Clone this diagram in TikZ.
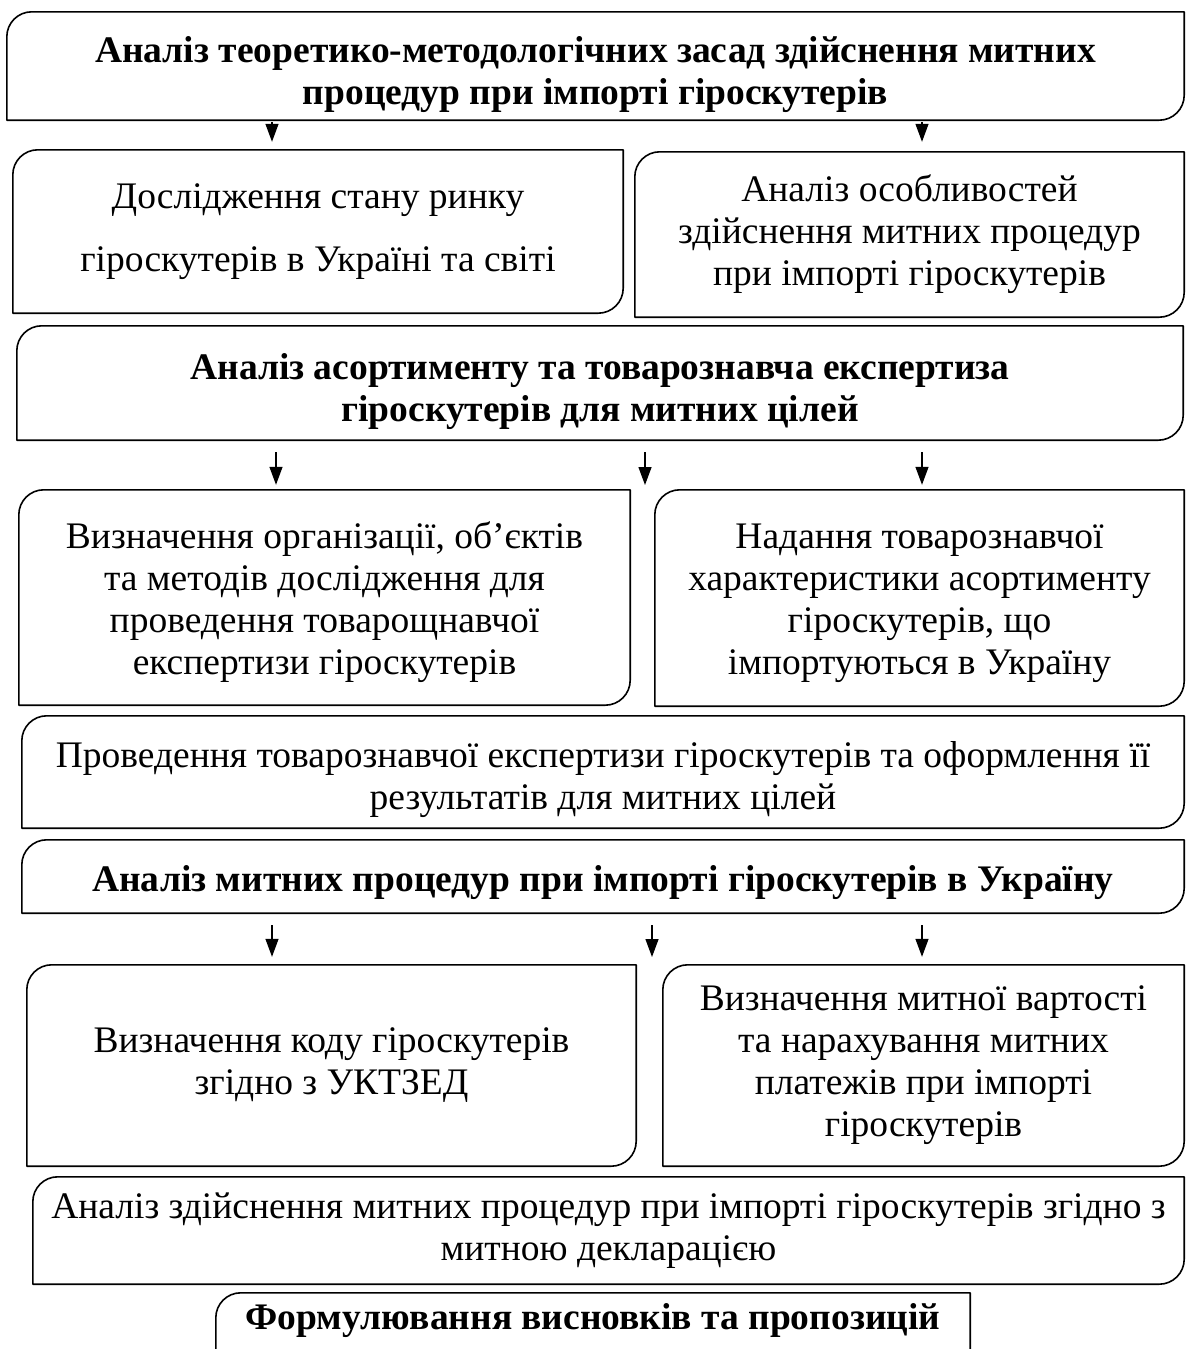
\documentclass[tikz,border=0pt]{standalone}
\usepackage{fontspec}
\setmainfont{Liberation Serif}
\usetikzlibrary{arrows.meta,calc}
\tikzset{
  boxline/.style={line width=1.6pt, line join=round},
  frame/.style 2 args={draw=none, inner sep=0pt, minimum width=#1, minimum height=#2},
  cb/.style={draw=none, inner sep=0pt, align=center, font=\fontsize{37.5}{42}\selectfont},
  cbb/.style={cb, font=\fontsize{37.5}{42}\selectfont\bfseries},
  arr/.style={line width=1.3pt, -{Triangle[width=13pt,length=18pt]}},
}
\def\crad{25pt}
\newcommand\boxoutline[1]{%
  \draw[boxline] (#1.north east) -- ([xshift=\crad]#1.north west)
    arc[start angle=90,end angle=180,radius=\crad] -- (#1.south west)
    -- ([xshift=-\crad]#1.south east)
    arc[start angle=270,end angle=360,radius=\crad] -- cycle;}
\begin{document}
\begin{tikzpicture}[x=1pt,y=1pt]
\useasboundingbox (0,0) rectangle (1186,-1349);
\fill[white] (0,0) rectangle (1186,-1349);

\node[frame={1177pt}{108pt}, label={[cbb, yshift=-9pt]center:{Аналіз теоретико-методологічних засад здійснення митних\\процедур при імпорті гіроскутерів}}] (b1) at (595.5,-66) {};
\node[frame={610pt}{163pt}, label={[cb]center:{Дослідження стану ринку\\[21pt]гіроскутерів в Україні та світі}}] (b2l) at (318,-231.5) {};
\node[frame={549pt}{165pt}, label={[cb]center:{Аналіз особливостей\\здійснення митних процедур\\при імпорті гіроскутерів}}] (b2r) at (909.5,-234.5) {};
\node[frame={1166pt}{114pt}, label={[cbb, yshift=-9pt]center:{Аналіз асортименту та товарознавча експертиза\\гіроскутерів для митних цілей}}] (b3) at (600,-383) {};
\node[frame={611pt}{215pt}, label={[cb, yshift=-5pt]center:{Визначення організації, об’єктів\\та методів дослідження для\\проведення товарощнавчої\\експертизи гіроскутерів}}] (b4l) at (324.5,-597.5) {};
\node[frame={529pt}{216pt}, label={[cb, yshift=-5pt]center:{Надання товарознавчої\\характеристики асортименту\\гіроскутерів, що\\імпортуються в Україну}}] (b4r) at (919.5,-598) {};
\node[frame={1162pt}{112pt}, label={[cb, yshift=-8pt]center:{Проведення товарознавчої експертизи гіроскутерів та оформлення її\\результатів для митних цілей}}] (b5) at (603,-772) {};
\node[frame={1162pt}{73pt}, label={[cbb, yshift=-6pt]center:{Аналіз митних процедур при імпорті гіроскутерів в Україну}}] (b6) at (603,-876.5) {};
\node[frame={609pt}{201pt}, label={[cb]center:{Визначення коду гіроскутерів\\згідно з УКТЗЕД}}] (b7l) at (331.5,-1065.5) {};
\node[frame={521pt}{201pt}, label={[cb]center:{Визначення митної вартості\\та нарахування митних\\платежів при імпорті\\гіроскутерів}}] (b7r) at (923.5,-1065.5) {};
\node[frame={1151pt}{107pt}, label={[cb]center:{Аналіз здійснення митних процедур при імпорті гіроскутерів згідно з\\митною декларацією}}] (b8) at (608.5,-1230.5) {};
\node[frame={754pt}{56pt}, label={[cbb]center:{Формулювання висновків та пропозицій}}] (b9) at (593,-1321) {};

\foreach \n in {b1,b2l,b2r,b3,b4l,b4r,b5,b6,b7l,b7r,b8}{\boxoutline{\n}}
\draw[boxline] ([yshift=-60pt]b9.south east) -- (b9.north east)
  -- ([xshift=\crad]b9.north west) arc[start angle=90,end angle=180,radius=\crad]
  -- ([yshift=-60pt]b9.south west);

% arrow x positions
\coordinate (xa) at (272,0);
\coordinate (xb) at (922,0);
\coordinate (xc) at (276,0);
\coordinate (xd) at (645,0);
\coordinate (xe) at (272,0);
\coordinate (xf) at (652,0);
\coordinate (g1) at (645,-485);
\coordinate (g2) at (652,-957);

\draw[arr, shorten <=2pt, shorten >=8pt] (b1.south -| xa) -- (b2l.north -| xa);
\draw[arr, shorten <=2pt, shorten >=10pt] (b1.south -| xb) -- (b2r.north -| xb);
\draw[arr, shorten <=12pt, shorten >=5pt] (b3.south -| xc) -- (b4l.north -| xc);
\draw[arr, shorten <=12pt] (b3.south -| xd) -- (g1);
\draw[arr, shorten <=12pt, shorten >=5pt] (b3.south -| xb) -- (b4r.north -| xb);
\draw[arr, shorten <=12pt, shorten >=8pt] (b6.south -| xe) -- (b7l.north -| xe);
\draw[arr, shorten <=12pt] (b6.south -| xf) -- (g2);
\draw[arr, shorten <=12pt, shorten >=8pt] (b6.south -| xb) -- (b7r.north -| xb);
\end{tikzpicture}
\end{document}
